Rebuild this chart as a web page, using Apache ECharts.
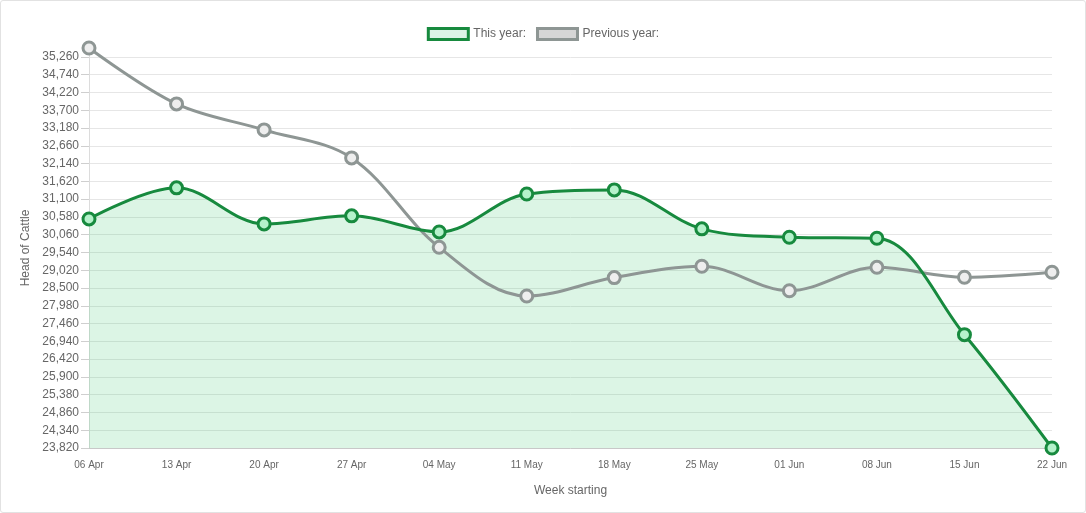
<!DOCTYPE html>
<html>
<head>
<meta charset="utf-8">
<script src="https://cdn.jsdelivr.net/npm/echarts@6/dist/echarts.min.js"></script>
<style>
  html, body { margin: 0; padding: 0; background: #fff; }
  #main { width: 1084px; height: 511px; border: 1px solid #e2e2e2; border-radius: 3px; }
</style>
</head>
<body>
<div id="main"></div>
<script>
// weeks on the x axis
const weeks = ['06 Apr', '13 Apr', '20 Apr', '27 Apr', '04 May', '11 May', '18 May', '25 May', '01 Jun', '08 Jun', '15 Jun', '22 Jun'];
// head of cattle
const thisYear = [30520, 31430, 30375, 30610, 30140, 31250, 31370, 30230, 29985, 29955, 27135, 23820];
const previousYear = [35520, 33885, 33125, 32305, 29690, 28265, 28805, 29135, 28420, 29105, 28815, 28960];
// y axis tick labels
const yTicks = [23820, 24340, 24860, 25380, 25900, 26420, 26940, 27460, 27980, 28500, 29020, 29540,
  30060, 30580, 31100, 31620, 32140, 32660, 33180, 33700, 34220, 34740, 35260];

const font = 'Liberation Sans, Arial, sans-serif';
const chart = echarts.init(document.getElementById('main'));

var option = {
  animation: false,
  textStyle: { fontFamily: font },
  grid: {
    left: 88,
    right: 33,
    top: 47,
    bottom: 64
  },
  legend: {
    top: 21,
    left: 'center',
    icon: 'rect',
    itemWidth: 40,
    itemHeight: 11,
    itemGap: 10,
    textStyle: { color: '#666', fontSize: 12, fontFamily: font },
    data: [
      { name: 'This year:', itemStyle: { color: '#dcf4e6', borderColor: '#178a3e', borderWidth: 3 } },
      { name: 'Previous year:', itemStyle: { color: '#d6d6d6', borderColor: '#8e9694', borderWidth: 3 } }
    ]
  },
  xAxis: {
    type: 'category',
    boundaryGap: false,
    data: weeks,
    name: 'Week starting',
    nameLocation: 'middle',
    nameGap: 37,
    nameTextStyle: { color: '#666', fontSize: 12, fontFamily: font },
    axisTick: { show: false },
    axisLine: { lineStyle: { color: '#c8c8c8', width: 1 } },
    axisLabel: { color: '#666', fontSize: 10, margin: 12, fontFamily: font },
    splitLine: { show: false }
  },
  yAxis: {
    type: 'value',
    min: 23820,
    max: 35520,
    name: 'Head of Cattle',
    nameLocation: 'middle',
    nameRotate: 90,
    nameGap: 52,
    nameTextStyle: { color: '#666', fontSize: 12, fontFamily: font },
    axisLine: { show: true, lineStyle: { color: '#dcdcdc', width: 1 } },
    axisTick: { show: true, inside: false, length: 8, customValues: yTicks, lineStyle: { color: '#cfcfcf', width: 1 } },
    axisLabel: {
      color: '#666',
      fontSize: 12,
      margin: 10,
      fontFamily: font,
      customValues: yTicks,
      formatter: v => Number(v).toLocaleString('en-US')
    },
    splitLine: { show: true, lineStyle: { color: '#e6e6e6', width: 1 } }
  },
  series: [{
    name: 'Previous year:',
    type: 'line',
    smooth: 0.35,
    data: previousYear,
    symbol: 'circle',
    symbolSize: 12,
    lineStyle: { color: '#8e9694', width: 3 },
    itemStyle: { color: '#eeeeee', borderColor: '#8e9694', borderWidth: 3 }
  }, {
    name: 'This year:',
    type: 'line',
    smooth: 0.35,
    data: thisYear,
    symbol: 'circle',
    symbolSize: 12,
    lineStyle: { color: '#178a3e', width: 3 },
    itemStyle: { color: '#b5f2cb', borderColor: '#178a3e', borderWidth: 3 },
    areaStyle: { color: 'rgba(60, 200, 110, 0.18)', opacity: 1 }
  }]
};

chart.setOption(option);
</script>
</body>
</html>
